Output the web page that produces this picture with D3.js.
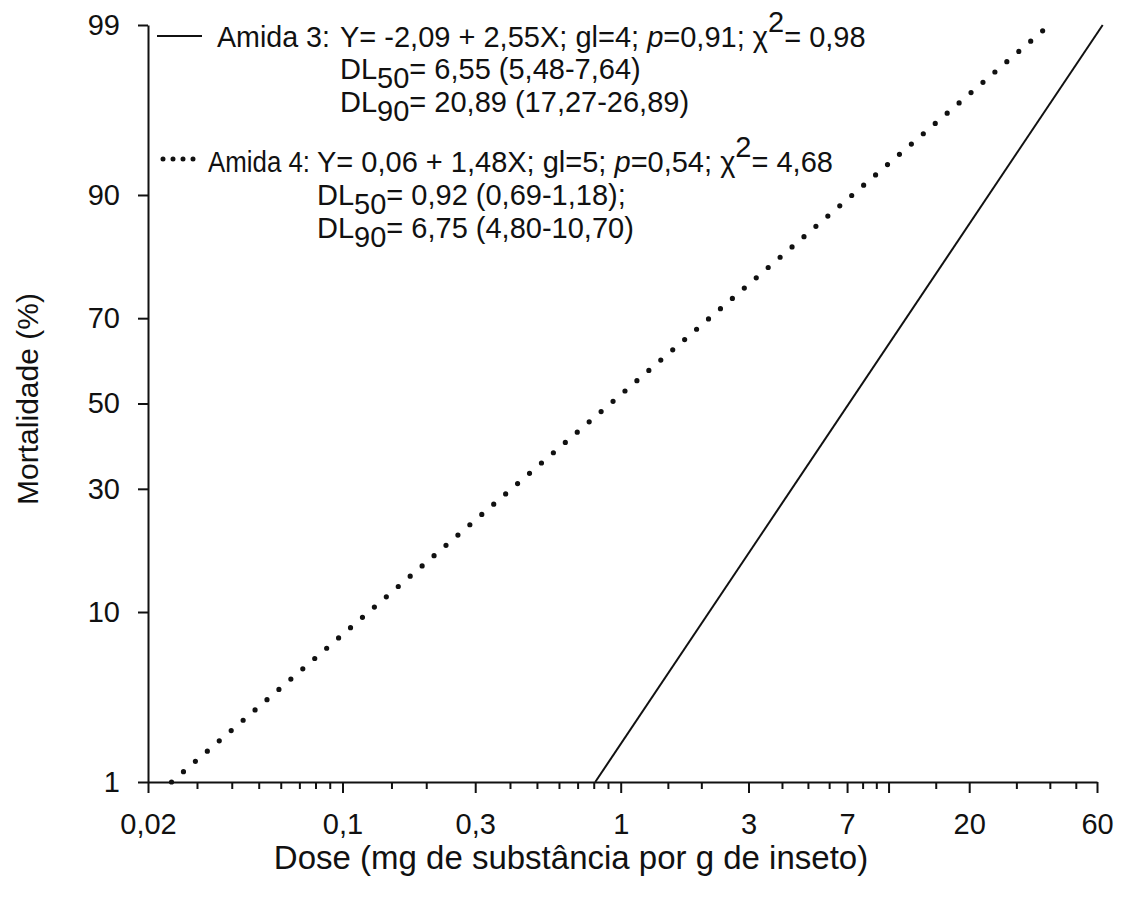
<!DOCTYPE html>
<html>
<head>
<meta charset="utf-8">
<script src="https://cdn.jsdelivr.net/npm/d3@7"></script>
<style>
  body { margin: 0; background: #fff; }
  svg text { font-family: "Liberation Sans", Arial, sans-serif; fill: #111; }
</style>
</head>
<body>
<div id="target"></div>
<script>
// probit regression lines (dose in mg/g, mortality in %)
const amida3 = [[0.81, 1], [63, 99]];
const amida4 = [[0.0243, 1], [37.6, 98.9]];

const xMajor = [0.02, 0.1, 0.3, 1, 3, 7, 10, 20, 60];
const xMajorLabels = ["0,02", "0,1", "0,3", "1", "3", "7", "", "20", "60"];
const xMinor = [0.03, 0.04, 0.05, 0.06, 0.07, 0.08, 0.09, 0.15, 0.2, 0.4, 0.5, 0.6, 0.7, 0.8, 0.9,
  1.5, 2, 4, 5, 6, 8, 9, 15, 30, 40, 50];
const yTicks = [1, 10, 30, 50, 70, 90, 99];

const legend3 = [
  ["Amida 3:", "Y= -2,09 + 2,55X; gl=4; ", "p", "=0,91; ", "\u03c7", "2", "= 0,98"],
  ["DL", "50", "= 6,55 (5,48-7,64)"],
  ["DL", "90", "= 20,89 (17,27-26,89)"]
];
const legend4 = [
  ["Amida 4:", "Y= 0,06 + 1,48X; gl=5; ", "p", "=0,54; ", "\u03c7", "2", "= 4,68"],
  ["DL", "50", "= 0,92 (0,69-1,18);"],
  ["DL", "90", "= 6,75 (4,80-10,70)"]
];

function drawChart() {
  const width = 1144,
    height = 902;

  // inverse of the standard normal cdf (Acklam)
  function probit(p) {
    const a = [-39.69683028665376, 220.9460984245205, -275.9285104469687, 138.3577518672690, -30.66479806614716, 2.506628277459239],
      b = [-54.47609879822406, 161.5858368580409, -155.6989798598866, 66.80131188771972, -13.28068155288572],
      c = [-0.007784894002430293, -0.3223964580411365, -2.400758277161838, -2.549732539343734, 4.374664141464968, 2.938163982698783],
      d = [0.007784695709041462, 0.3224671290700398, 2.445134137142996, 3.754408661907416];
    const pl = 0.02425;
    let q, r;
    if (p < pl) {
      q = Math.sqrt(-2 * Math.log(p));
      return (((((c[0] * q + c[1]) * q + c[2]) * q + c[3]) * q + c[4]) * q + c[5]) /
        ((((d[0] * q + d[1]) * q + d[2]) * q + d[3]) * q + 1);
    }
    if (p > 1 - pl) {
      q = Math.sqrt(-2 * Math.log(1 - p));
      return -(((((c[0] * q + c[1]) * q + c[2]) * q + c[3]) * q + c[4]) * q + c[5]) /
        ((((d[0] * q + d[1]) * q + d[2]) * q + d[3]) * q + 1);
    }
    q = p - 0.5;
    r = q * q;
    return (((((a[0] * r + a[1]) * r + a[2]) * r + a[3]) * r + a[4]) * r + a[5]) * q /
      (((((b[0] * r + b[1]) * r + b[2]) * r + b[3]) * r + b[4]) * r + 1);
  }

  const left = 148, right = 1097, top = 25, bottom = 782;

  // the printed axis is slightly wider per decade below 1 than above
  const x = d3.scaleLog()
    .domain([0.02, 1, 60])
    .range([left, 620.7, right]);

  const z = d3.scaleLinear()
    .domain([probit(0.01), probit(0.99)])
    .range([bottom, top]);
  const y = (pct) => z(probit(pct / 100));

  const svg = d3.select("#target")
    .append("svg")
    .attr("width", width)
    .attr("height", height);

  // x axis: minor ticks, then major ticks with labels
  svg.append("g")
    .attr("transform", `translate(0,${bottom})`)
    .call(d3.axisBottom(x).tickValues(xMinor).tickSize(7).tickFormat(""))
    .call((g) => g.select(".domain").remove());

  const xAxis = svg.append("g")
    .attr("transform", `translate(0,${bottom})`)
    .call(d3.axisBottom(x)
      .tickValues(xMajor)
      .tickSize(11)
      .tickSizeOuter(0)
      .tickPadding(20)
      .tickFormat((d, i) => xMajorLabels[i]));
  xAxis.selectAll("text").style("font-size", "29px").attr("font-family", null);

  const yAxis = svg.append("g")
    .attr("transform", `translate(${left},0)`)
    .call(d3.axisLeft(z)
      .tickValues(yTicks.map((p) => probit(p / 100)))
      .tickSize(10)
      .tickSizeOuter(0)
      .tickPadding(18)
      .tickFormat((d, i) => yTicks[i]));
  yAxis.selectAll("text").style("font-size", "29px").attr("font-family", null);

  svg.selectAll(".domain, .tick line")
    .attr("stroke", "#111")
    .attr("stroke-width", 2);

  // axis titles
  svg.append("text")
    .attr("x", 571)
    .attr("y", 869)
    .attr("text-anchor", "middle")
    .style("font-size", "33px")
    .text("Dose (mg de substância por g de inseto)");

  svg.append("text")
    .attr("transform", "translate(38,399) rotate(-90)")
    .attr("text-anchor", "middle")
    .style("font-size", "30px")
    .text("Mortalidade (%)");

  const line = d3.line()
    .x((d) => x(d[0]))
    .y((d) => y(d[1]));

  svg.append("path")
    .datum(amida3)
    .attr("d", line)
    .attr("fill", "none")
    .attr("stroke", "#111")
    .attr("stroke-width", 2);

  const dotted = svg.append("path")
    .datum(amida4)
    .attr("d", line)
    .attr("fill", "none")
    .attr("stroke", "#111")
    .attr("stroke-width", 5.2)
    .attr("stroke-linecap", "round");
  const len = dotted.node().getTotalLength();
  const gap = len / Math.round(len / 15.8);
  dotted.attr("stroke-dasharray", `0 ${gap}`);

  // legend
  const legend = svg.append("g");

  legend.append("line")
    .attr("x1", 157).attr("x2", 202)
    .attr("y1", 36).attr("y2", 36)
    .attr("stroke", "#111")
    .attr("stroke-width", 2);

  legend.append("line")
    .attr("x1", 163).attr("x2", 193.5)
    .attr("y1", 159).attr("y2", 159)
    .attr("stroke", "#111")
    .attr("stroke-width", 5)
    .attr("stroke-linecap", "round")
    .attr("stroke-dasharray", "0 10");

  function writeBlock(rows, nameX, nameW, eqX, baselines) {
    rows.forEach((row, i) => {
      if (i === 0) {
        legend.append("text")
          .attr("x", nameX)
          .attr("y", baselines[i])
          .attr("textLength", nameW)
          .attr("lengthAdjust", "spacingAndGlyphs")
          .style("font-size", "29px")
          .text(row[0]);
        const t = legend.append("text")
          .attr("x", eqX)
          .attr("y", baselines[i])
          .style("font-size", "29px");
        t.append("tspan").text(row[1]);
        t.append("tspan").style("font-style", "italic").text(row[2]);
        t.append("tspan").text(row[3]);
        t.append("tspan").text(row[4]);
        t.append("tspan").attr("dy", -15).text(row[5]);
        t.append("tspan").attr("dy", 15).text(row[6]);
      } else {
        const t = legend.append("text")
          .attr("x", eqX)
          .attr("y", baselines[i])
          .style("font-size", "29px");
        t.append("tspan").text(row[0]);
        t.append("tspan").attr("dy", 9).text(row[1]);
        t.append("tspan").attr("dy", -9).text(row[2]);
      }
    });
  }

  writeBlock(legend3, 217, 113, 340, [47, 79, 112]);
  writeBlock(legend4, 208, 102, 317, [172, 205, 238]);
}

drawChart();
</script>
</body>
</html>
